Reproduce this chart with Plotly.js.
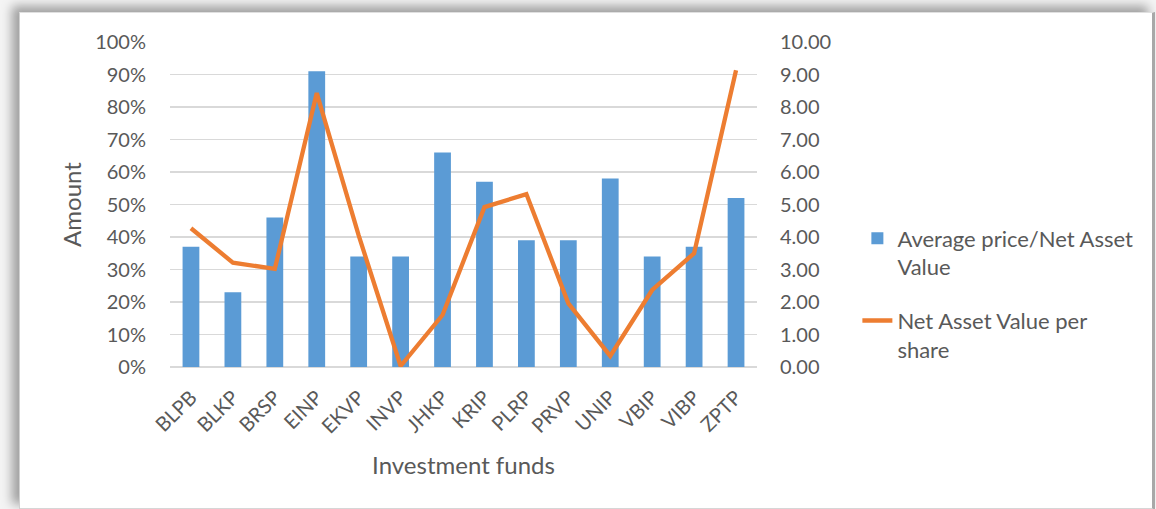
<!DOCTYPE html>
<html>
<head>
<meta charset="utf-8">
<script src="https://cdn.plot.ly/plotly-3.0.1.min.js"></script>
<style>
  html, body { margin: 0; padding: 0; background: #f4f4f4; width: 1156px; height: 509px; overflow: hidden; }
  #frame { position: absolute; left: 19px; top: 12px; width: 1132px; height: 495px; background: #ffffff;
           border-top: 1px solid #e0e0e0; border-left: 1px solid #d0d0d0; border-right: 3px solid #a8a8a8; border-bottom: 2px solid #d6d6d6;
           box-shadow: -7px -6px 10px rgba(0,0,0,0.35); }
  #chart { position: absolute; left: 0; top: 0; width: 1156px; height: 509px; }
</style>
</head>
<body>
<div id="frame"></div>
<div id="chart"></div>
<script>
const funds = ['BLPB','BLKP','BRSP','EINP','EKVP','INVP','JHKP','KRIP','PLRP','PRVP','UNIP','VBIP','VIBP','ZPTP'];
const avgPriceToNAV = [0.37,0.23,0.46,0.91,0.34,0.34,0.66,0.57,0.39,0.39,0.58,0.34,0.37,0.52];
const navPerShare = [4.27,3.21,3.02,8.43,4.05,0.03,1.60,4.92,5.32,1.96,0.34,2.37,3.50,9.13];
const barName = 'Average price/Net Asset<br>Value';
const lineName = 'Net Asset Value per<br>share';

const font = 'Lato, "Open Sans", sans-serif';
const txt = '#595959';

const data = [
  { type: 'bar', x: funds, y: avgPriceToNAV, name: barName, marker: { color: '#5b9bd5' },
    yaxis: 'y', legendgroup: 'a', hoverinfo: 'x+y' },
  { type: 'scatter', mode: 'lines', x: funds, y: navPerShare, name: lineName,
    line: { color: '#ed7d31', width: 4.3 }, yaxis: 'y2', legendgroup: 'b' }
];

const layout = {
  width: 1156, height: 509,
  margin: { l: 170, r: 399, t: 42, b: 142 },
  paper_bgcolor: 'rgba(0,0,0,0)', plot_bgcolor: 'rgba(0,0,0,0)',
  font: { family: font, color: txt, size: 20 },
  bargap: 0.6,
  showlegend: true,
  legend: { x: 1.171, xanchor: 'left', y: 0.46, yanchor: 'top', valign: 'top',
            font: { family: font, size: 22, color: txt }, traceorder: 'grouped', tracegroupgap: 22,
            bgcolor: 'rgba(0,0,0,0)' },
  xaxis: { type: 'category', tickangle: -45, showgrid: false, showline: false, zeroline: false,
           ticks: 'outside', ticklen: 10, tickcolor: 'rgba(0,0,0,0)', tickfont: { size: 20, color: txt },
           title: { text: 'Investment funds', font: { size: 24, color: txt }, standoff: 20 } },
  yaxis: { range: [0, 1], dtick: 0.1, tickformat: '.0%', showgrid: true, gridcolor: '#d9d9d9', gridwidth: 1.5,
           zeroline: true, zerolinecolor: '#d9d9d9', zerolinewidth: 1.5, showline: false,
           ticks: 'outside', ticklen: 19, tickcolor: 'rgba(0,0,0,0)', tickfont: { size: 20, color: txt },
           title: { text: 'Amount', font: { size: 24, color: txt }, standoff: 6 } },
  yaxis2: { overlaying: 'y', side: 'right', range: [0, 10], dtick: 1, tickformat: '.2f', showgrid: false,
            zeroline: false, showline: false, ticks: 'outside', ticklen: 18, tickcolor: 'rgba(0,0,0,0)',
            tickfont: { size: 20, color: txt } }
};

Plotly.newPlot('chart', data, layout, { displayModeBar: false, staticPlot: true });
</script>
</body>
</html>
